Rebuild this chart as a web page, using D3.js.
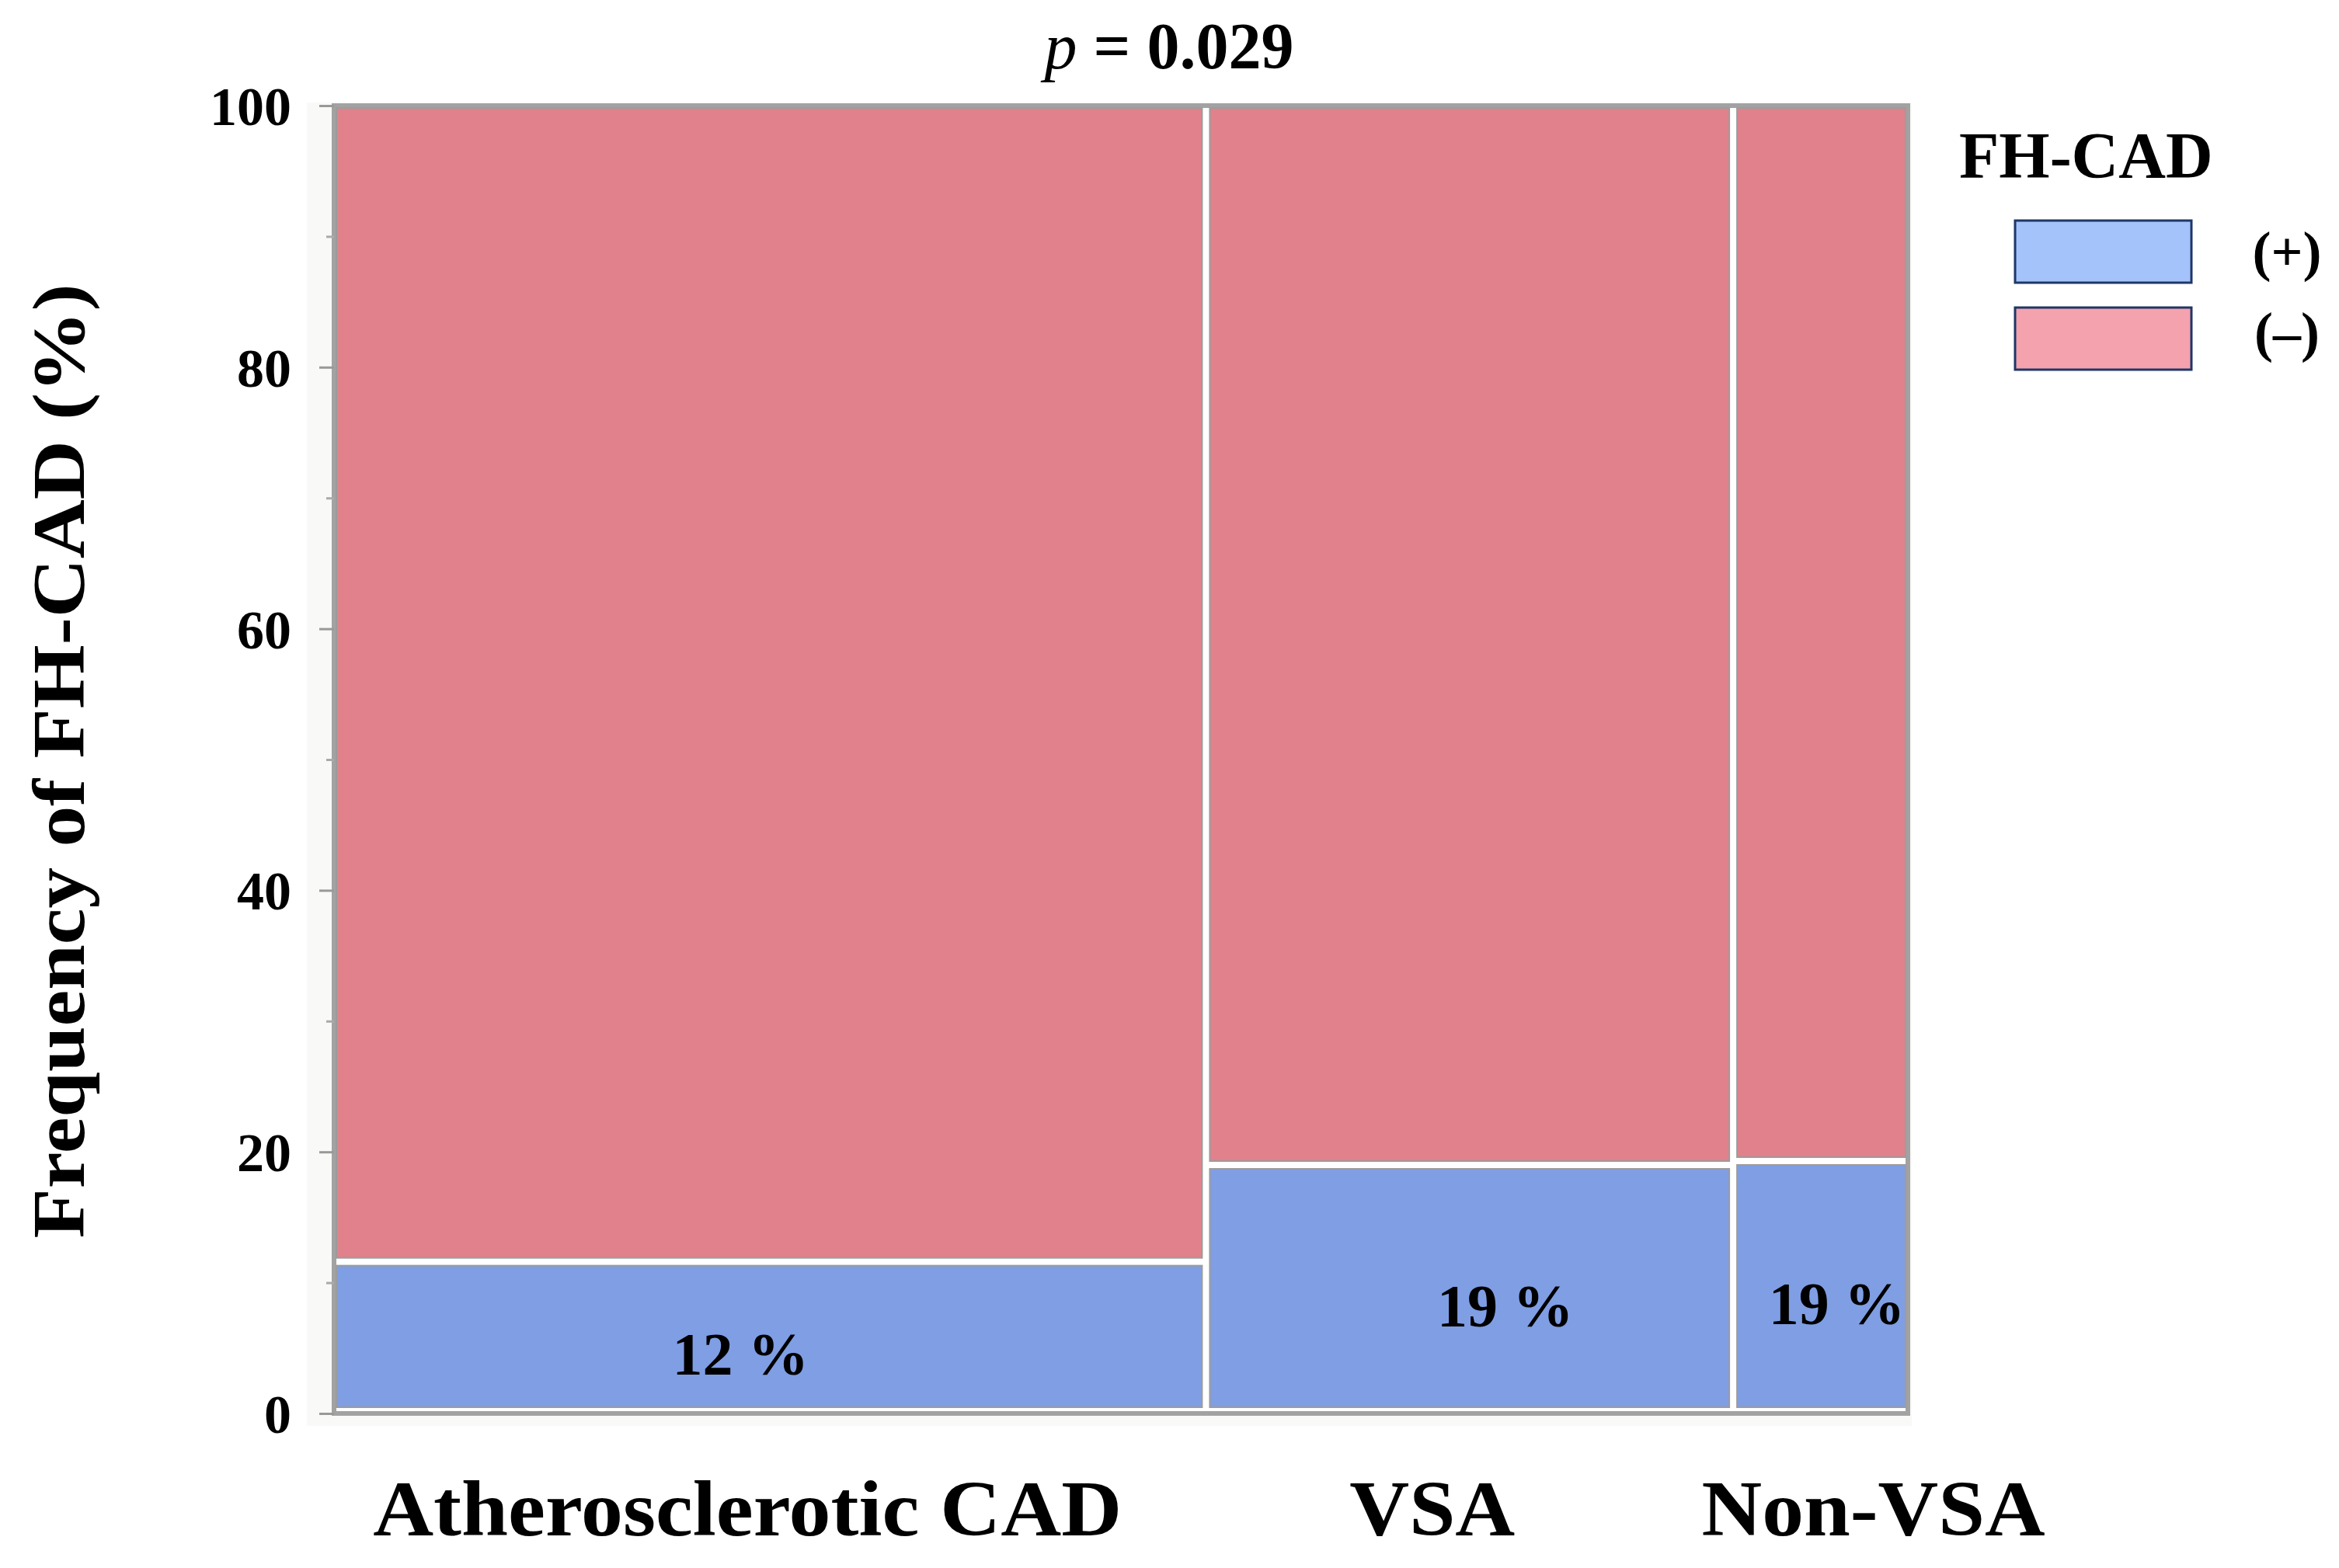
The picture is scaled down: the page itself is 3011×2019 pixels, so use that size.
<!DOCTYPE html>
<html>
<head>
<meta charset="utf-8">
<script src="https://cdn.jsdelivr.net/npm/d3@7"></script>
<style>
  body { margin: 0; background: #fff; }
  text { font-family: "Liberation Serif", serif; font-weight: bold; fill: #000; }
</style>
</head>
<body>
<script>
// Data
var groups = ["Atherosclerotic CAD", "VSA", "Non-VSA"];
var groupShare = [55.4, 33.5, 11.1];      // column widths (share of patients, %)
var fhPos = [11.6, 19.0, 19.3];           // FH-CAD (+) %, drawn height
var fhLabels = ["12 %", "19 %", "19 %"];
var yTicks = [0, 20, 40, 60, 80, 100];
var yMinor = [10, 30, 50, 70, 90];
var legendKeys = ["(+)", "(\u2013)"];

// Width and height
var w = 3011;
var h = 2019;
var margin = {left: 430, right: 555, top: 136, bottom: 199};

var pinkCell = "#e1818b";
var blueCell = "#7f9ee4";
var legendFill = ["#a3c3fa", "#f4a2ae"];

var svg = d3.select("body")
            .append("svg")
            .attr("width", w)
            .attr("height", h);

var x = d3.scaleLinear().domain([0, 100]).range([margin.left, w - margin.right]);
var y = d3.scaleLinear().domain([0, 100]).range([h - margin.bottom, margin.top]);

// cumulative column starts
var starts = [];
var acc = 0;
groupShare.forEach(function(s){ starts.push(acc); acc += s; });

var cols = groups.map(function(g, i){
  return {name: g, x0: starts[i], x1: starts[i] + groupShare[i], pos: fhPos[i], lab: fhLabels[i]};
});

// faint backdrop around plot area
svg.append("rect")
   .attr("x", x(0) - 35).attr("y", y(100) - 4)
   .attr("width", x(100) - x(0) + 40).attr("height", y(0) - y(100) + 20)
   .style("fill", "#f9f9f7");

// outer frame
svg.append("rect")
   .attr("x", x(0)).attr("y", y(100))
   .attr("width", x(100) - x(0)).attr("height", y(0) - y(100))
   .style("fill", "#fff")
   .style("stroke", "#a2a2a2")
   .style("stroke-width", 6);

var gap = 5;
var cells = [];
cols.forEach(function(c){
  cells.push({x0: c.x0, x1: c.x1, y0: 0, y1: c.pos, fill: blueCell});
  cells.push({x0: c.x0, x1: c.x1, y0: c.pos, y1: 100, fill: pinkCell});
});

svg.selectAll("rect.cell")
   .data(cells)
   .enter()
   .append("rect")
   .attr("class", "cell")
   .attr("x", function(d){ return x(d.x0) + (d.x0 > 0 ? gap : 3); })
   .attr("y", function(d){ return y(d.y1) + (d.y1 < 100 ? gap : 3); })
   .attr("width", function(d){ return x(d.x1) - x(d.x0) - (d.x0 > 0 ? gap : 3) - (d.x1 < 100 ? gap : 3); })
   .attr("height", function(d){ return y(d.y0) - y(d.y1) - (d.y1 < 100 ? gap : 3) - (d.y0 > 0 ? gap : 8); })
   .style("fill", function(d){ return d.fill; })
   .style("stroke", "#9c9c9c")
   .style("stroke-width", 2);

// y axis
var yAxis = d3.axisLeft(y).tickValues(yTicks).tickSize(19).tickPadding(36);
var ga = svg.append("g").attr("transform", "translate(" + x(0) + ",0)").call(yAxis);
ga.select(".domain").remove();
ga.selectAll(".tick line").style("stroke", "#999").style("stroke-width", 3);
ga.selectAll(".tick text").style("font-size", "70px").style("font-family", "Liberation Serif")
  .attr("dy", "0.35em");

var gm = svg.append("g").attr("transform", "translate(" + x(0) + ",0)")
            .call(d3.axisLeft(y).tickValues(yMinor).tickSize(10).tickFormat(""));
gm.select(".domain").remove();
gm.selectAll(".tick line").style("stroke", "#aaa").style("stroke-width", 3);

// percent labels inside blue cells
var labShift = [-38, 46, 21];
svg.selectAll("text.pct")
   .data(cols)
   .enter()
   .append("text")
   .attr("class", "pct")
   .attr("x", function(d, i){ return (x(d.x0) + x(d.x1)) / 2 + labShift[i]; })
   .attr("y", function(d){ return (y(0) + y(d.pos)) / 2 + 48; })
   .attr("text-anchor", "middle")
   .style("font-size", "78px")
   .text(function(d){ return d.lab; });

// group labels (original face is wider, so stretch to measured widths)
var grpShift = [-29, -48, 68];
var grpWidth = [964, 213, 442];
svg.selectAll("text.grp")
   .data(cols)
   .enter()
   .append("text")
   .attr("class", "grp")
   .attr("x", function(d, i){ return (x(d.x0) + x(d.x1)) / 2 + grpShift[i]; })
   .attr("y", 1977)
   .attr("text-anchor", "middle")
   .attr("textLength", function(d, i){ return grpWidth[i]; })
   .attr("lengthAdjust", "spacingAndGlyphs")
   .style("font-size", "102px")
   .text(function(d){ return d.name; });

// y axis title
svg.append("text")
   .attr("transform", "translate(108," + ((y(0) + y(100)) / 2 + 2) + ") rotate(-90)")
   .attr("text-anchor", "middle")
   .attr("textLength", 1229)
   .attr("lengthAdjust", "spacingAndGlyphs")
   .style("font-size", "96px")
   .text("Frequency of FH-CAD (%)");

// p value
var pt = svg.append("text")
   .attr("x", 1505).attr("y", 88)
   .attr("text-anchor", "middle")
   .style("font-size", "84px");
pt.append("tspan").style("font-style", "italic").style("font-weight", "normal").text("p");
pt.append("tspan").text(" = 0.029");

// legend
var lg = svg.append("g");
lg.append("text").attr("x", 2522).attr("y", 229).style("font-size", "84px").text("FH-CAD");
lg.selectAll("rect")
  .data(legendKeys)
  .enter()
  .append("rect")
  .attr("x", 2594)
  .attr("y", function(d, i){ return 284 + i * 112; })
  .attr("width", 227)
  .attr("height", 80)
  .style("fill", function(d, i){ return legendFill[i]; })
  .style("stroke", "#1f3766")
  .style("stroke-width", 3);
lg.selectAll("text.key")
  .data(legendKeys)
  .enter()
  .append("text")
  .attr("class", "key")
  .attr("x", 2944)
  .attr("y", function(d, i){ return 348 + i * 104; })
  .attr("text-anchor", "middle")
  .style("font-size", "72px")
  .text(function(d){ return d; });
</script>
</body>
</html>
